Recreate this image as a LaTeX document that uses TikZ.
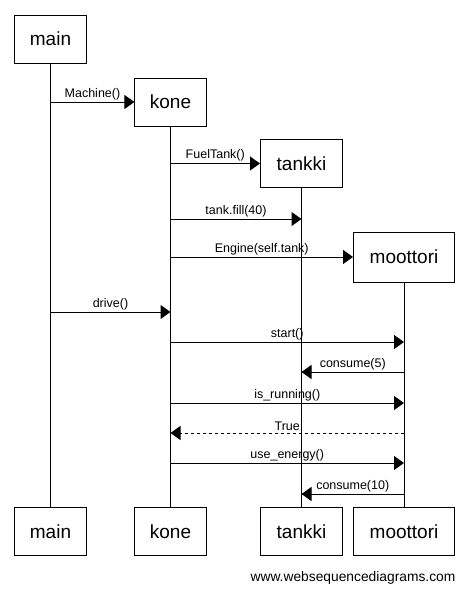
\documentclass[tikz,border=0pt]{standalone}
\usepackage{fontspec}
\setmainfont{Liberation Sans}
\usetikzlibrary{arrows.meta}

\begin{document}
\begin{tikzpicture}
	[x=1pt,y=-1pt,line width=1pt,
	obj/.style={draw,line width=1pt,minimum height=48pt,inner xsep=15pt,
		font=\fontsize{19}{19}\selectfont},
	msg/.style={-{Triangle[length=10pt,width=14pt]},line width=1pt},
	ret/.style={msg,dashed},
	lbl/.style={above,inner sep=1.5pt,font=\fontsize{12.5}{12.5}\selectfont}]
	\useasboundingbox (0,0) rectangle (470,590);
	
	% heads
	\node[obj] (main) at (50.5,39) {main};
	\node[obj] (kone) at (170.5,102) {kone};
	\node[obj,minimum width=82pt] (tankki) at (301.5,163.5) {tankki};
	\node[obj,minimum width=101pt,minimum height=50pt] (moottori) at (404,257) {moottori};
	
	% feet
	\node[obj] (main2) at (50.5,531.5) {main};
	\node[obj] (kone2) at (170.5,531.5) {kone};
	\node[obj,minimum width=82pt] (tankki2) at (301.5,531.5) {tankki};
	\node[obj,minimum width=101pt] (moottori2) at (404,531.5) {moottori};
	
	% lifelines
	\path
	\foreach \startNode/\endNode in {main/main2,kone/kone2,tankki/tankki2,moottori/moottori2}
	{
		(\startNode) edge[-] (\endNode)
	};
	
	% messages
	\draw[msg] (main |- kone) -- node[lbl] {Machine()} (kone.west);
	\draw[msg] (kone |- tankki) -- node[lbl] {FuelTank()} (tankki.west);
	\draw[msg] (kone |- 0,219) -- node[lbl] {tank.fill(40)} (tankki |- 0,219);
	\draw[msg] (kone |- moottori) -- node[lbl] {Engine(self.tank)} (moottori.west);
	\draw[msg] (main |- 0,312) -- node[lbl] {drive()} (kone |- 0,312);
	\draw[msg] (kone |- 0,342) -- node[lbl] {start()} (moottori |- 0,342);
	\draw[msg] (moottori |- 0,372) -- node[lbl] {consume(5)} (tankki |- 0,372);
	\draw[msg] (kone |- 0,403) -- node[lbl] {is\_running()} (moottori |- 0,403);
	\draw[ret] (moottori |- 0,433) -- node[lbl] {True} (kone |- 0,433);
	\draw[msg] (kone |- 0,463) -- node[lbl] {use\_energy()} (moottori |- 0,463);
	\draw[msg] (moottori |- 0,494) -- node[lbl] {consume(10)} (tankki |- 0,494);
	
	\node[font=\fontsize{13.8}{13.8}\selectfont] (site) at (353,578) {www.websequencediagrams.com};
\end{tikzpicture}
\end{document}
